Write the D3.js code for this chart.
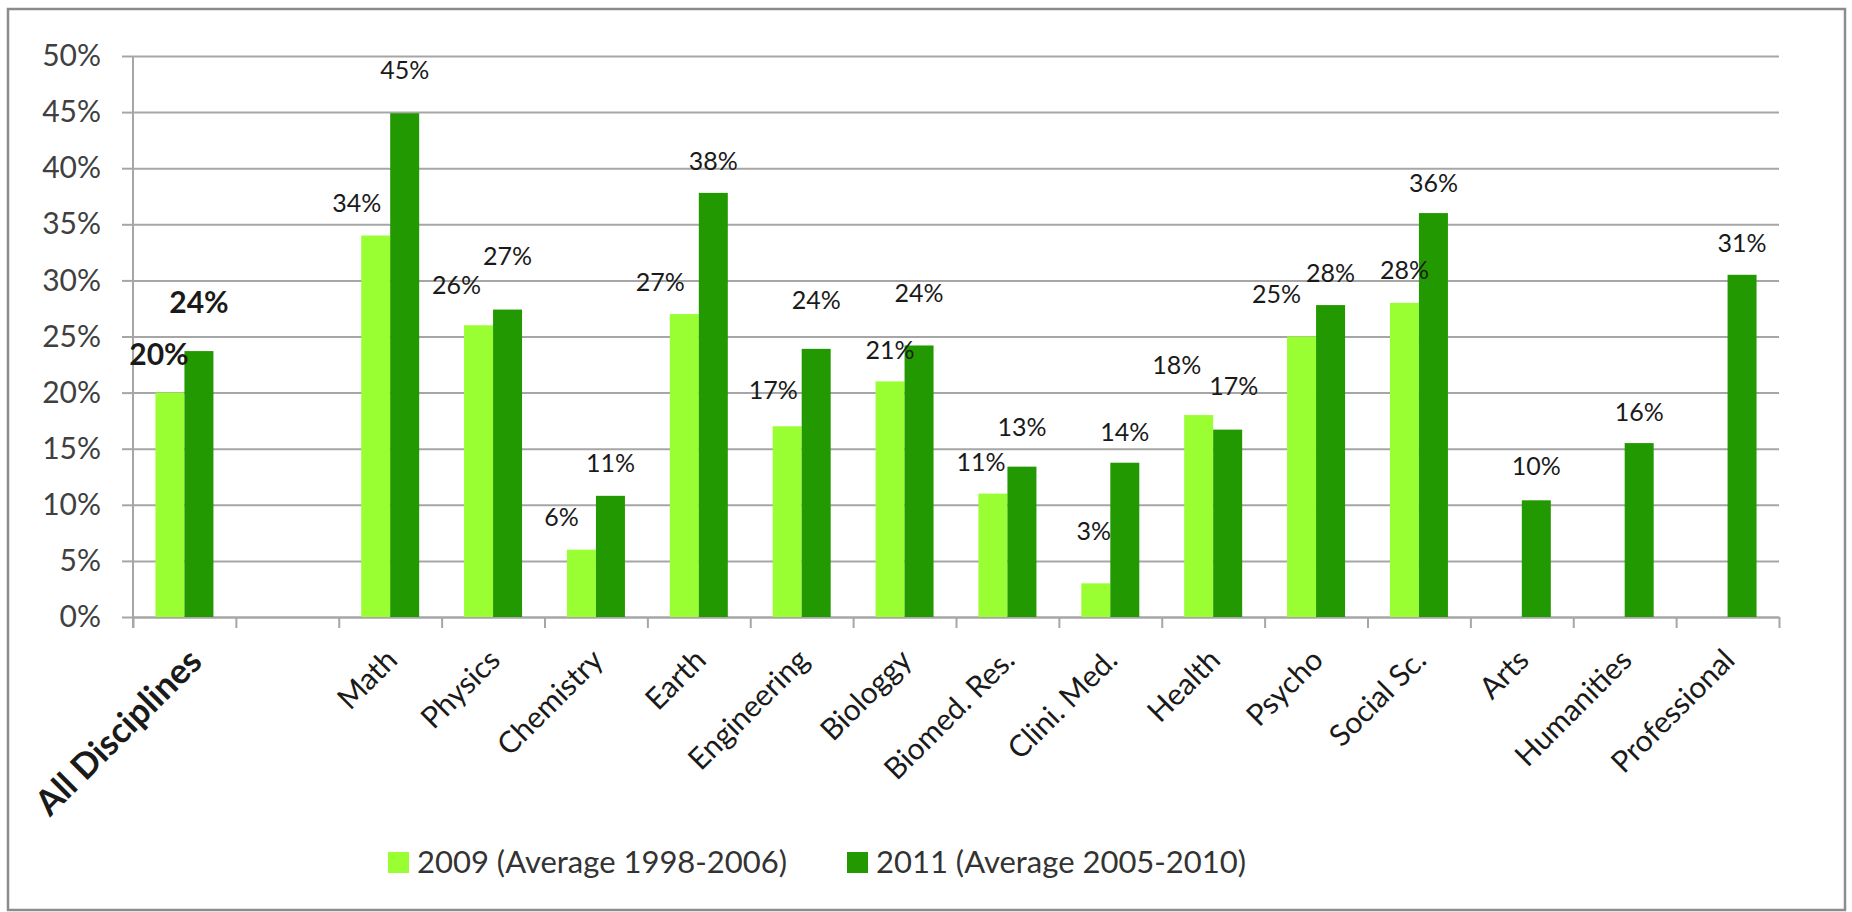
<!DOCTYPE html>
<html>
<head>
<meta charset="utf-8">
<script src="https://cdn.jsdelivr.net/npm/d3@7"></script>
<style>
  html, body { margin: 0; padding: 0; background: #fff; }
  svg { display: block; font-family: Lato, "Open Sans", sans-serif; }
</style>
</head>
<body>
<svg id="chart" width="1852" height="912"></svg>
<script>
// ---- data ----
const categories = ["All Disciplines", "", "Math", "Physics", "Chemistry", "Earth", "Engineering",
  "Biologgy", "Biomed. Res.", "Clini. Med.", "Health", "Psycho", "Social Sc.", "Arts", "Humanities", "Professional"];
const seriesNames = ["2009 (Average 1998-2006)", "2011 (Average 2005-2010)"];
const values2009 = [20, null, 34, 26, 6, 27, 17, 21, 11, 3, 18, 25, 28, null, null, null];
const values2011 = [23.7, null, 44.9, 27.4, 10.8, 37.8, 23.9, 24.2, 13.4, 13.75, 16.7, 27.8, 36, 10.4, 15.5, 30.5];
const yTickValues = [0, 5, 10, 15, 20, 25, 30, 35, 40, 45, 50];

// label placement tweaks (presentation only): [dx from bar centre, gap above bar top]
const labelShift2009 = [[-11, 38], null, [-19, 32], [-22, 40], [-20, 32], [-24, 32], [-14, 36], [0, 31],
  [-12, 31], [-2, 52], [-22, 50], [-25, 42], [0, 33], null, null, null];
const labelShift2011 = [[0, 49], null, [0, 43], [0, 53], [0, 33], [0, 32], [0, 49], [0, 52],
  [0, 39], [0, 30], [6, 43], [0, 32], [0, 30], [0, 34], [0, 31], [0, 32]];

const colors = ["#99ff33", "#229900"];

// ---- layout ----
const svg = d3.select("#chart");
const plotL = 133, plotR = 1779, plotT = 56, plotB = 617;

svg.append("rect").attr("x", 8).attr("y", 9).attr("width", 1837).attr("height", 901)
  .attr("fill", "#fff").attr("stroke", "#8c8c8c").attr("stroke-width", 2.5);

const x = d3.scaleBand().domain(d3.range(categories.length)).range([plotL, plotR]);
const xSub = d3.scaleBand().domain([0, 1]).range([0, x.bandwidth()]).paddingInner(0).paddingOuter(0.774);
const y = d3.scaleLinear().domain([0, 50]).range([plotB, plotT]);

// gridlines
const grid = svg.append("g").attr("transform", `translate(${plotL},0)`)
  .call(d3.axisLeft(y).tickValues(yTickValues).tickSizeInner(-(plotR - plotL)).tickSizeOuter(0).tickFormat(""));
grid.select(".domain").remove();
grid.selectAll(".tick line").attr("stroke", "#a6a6a6").attr("stroke-width", 2);

// y axis
const yAxis = svg.append("g").attr("transform", `translate(${plotL},0)`)
  .call(d3.axisLeft(y).tickValues(yTickValues).tickSize(11).tickPadding(21).tickFormat(d => d + "%"));
yAxis.select(".domain").remove();
yAxis.selectAll(".tick line").attr("stroke", "#a6a6a6").attr("stroke-width", 2);
yAxis.selectAll(".tick text").attr("font-size", 30).attr("fill", "#404040")
  .attr("font-family", "Lato, sans-serif");
svg.append("line").attr("x1", plotL).attr("x2", plotL).attr("y1", plotT).attr("y2", plotB + 11)
  .attr("stroke", "#a6a6a6").attr("stroke-width", 2);

// x axis (ticks at category boundaries)
const xb = d3.scaleLinear().domain([0, categories.length]).range([plotL, plotR]);
const xAxis = svg.append("g").attr("transform", `translate(0,${plotB})`)
  .call(d3.axisBottom(xb).tickValues(d3.range(categories.length + 1)).tickSizeInner(11).tickSizeOuter(0).tickFormat(""));
xAxis.select(".domain").attr("stroke", "#a6a6a6").attr("stroke-width", 2);
xAxis.selectAll(".tick line").attr("stroke", "#a6a6a6").attr("stroke-width", 2);

// bars
const seriesData = [values2009, values2011];
seriesData.forEach((vals, s) => {
  svg.append("g").selectAll("rect")
    .data(vals.map((v, i) => ({ v, i })).filter(d => d.v !== null))
    .join("rect")
    .attr("x", d => x(d.i) + xSub(s))
    .attr("width", xSub.bandwidth())
    .attr("y", d => y(d.v))
    .attr("height", d => y(0) - y(d.v))
    .attr("fill", colors[s]);
});

// data labels
const shifts = [labelShift2009, labelShift2011];
seriesData.forEach((vals, s) => {
  svg.append("g").selectAll("text")
    .data(vals.map((v, i) => ({ v, i })).filter(d => d.v !== null))
    .join("text")
    .attr("x", d => x(d.i) + xSub(s) + xSub.bandwidth() / 2 + shifts[s][d.i][0])
    .attr("y", d => y(d.v) - shifts[s][d.i][1])
    .attr("dy", "0.35em")
    .attr("text-anchor", "middle")
    .attr("font-size", d => d.i === 0 ? 30 : 25)
    .attr("font-weight", d => d.i === 0 ? "bold" : "normal")
    .attr("fill", "#1a1a1a")
    .text(d => Math.round(d.v) + "%");
});

// category labels (rotated)
svg.append("g").selectAll("text")
  .data(categories.map((c, i) => ({ c, i })).filter(d => d.c !== ""))
  .join("text")
  .attr("transform", d => {
    const fs = d.i === 0 ? 35 : 30;
    const off = 0.3 * fs;
    const cx = x(d.i) + x.bandwidth() / 2 + off + (d.i === 0 ? 9 : 0);
    const cy = 653 + off;
    return `translate(${cx},${cy}) rotate(-45)`;
  })
  .attr("text-anchor", "end")
  .attr("font-size", d => d.i === 0 ? 35 : 30)
  .attr("font-weight", d => d.i === 0 ? "bold" : "normal")
  .attr("fill", "#1a1a1a")
  .text(d => d.c);

// legend
const legendX = [388, 847];
const lg = svg.append("g");
seriesNames.forEach((name, s) => {
  lg.append("rect").attr("x", legendX[s]).attr("y", 852).attr("width", 21).attr("height", 21).attr("fill", colors[s]);
  lg.append("text").attr("x", legendX[s] + 29).attr("y", 862).attr("dy", "0.35em")
    .attr("font-size", 31).attr("fill", "#333").text(name);
});
</script>
</body>
</html>
